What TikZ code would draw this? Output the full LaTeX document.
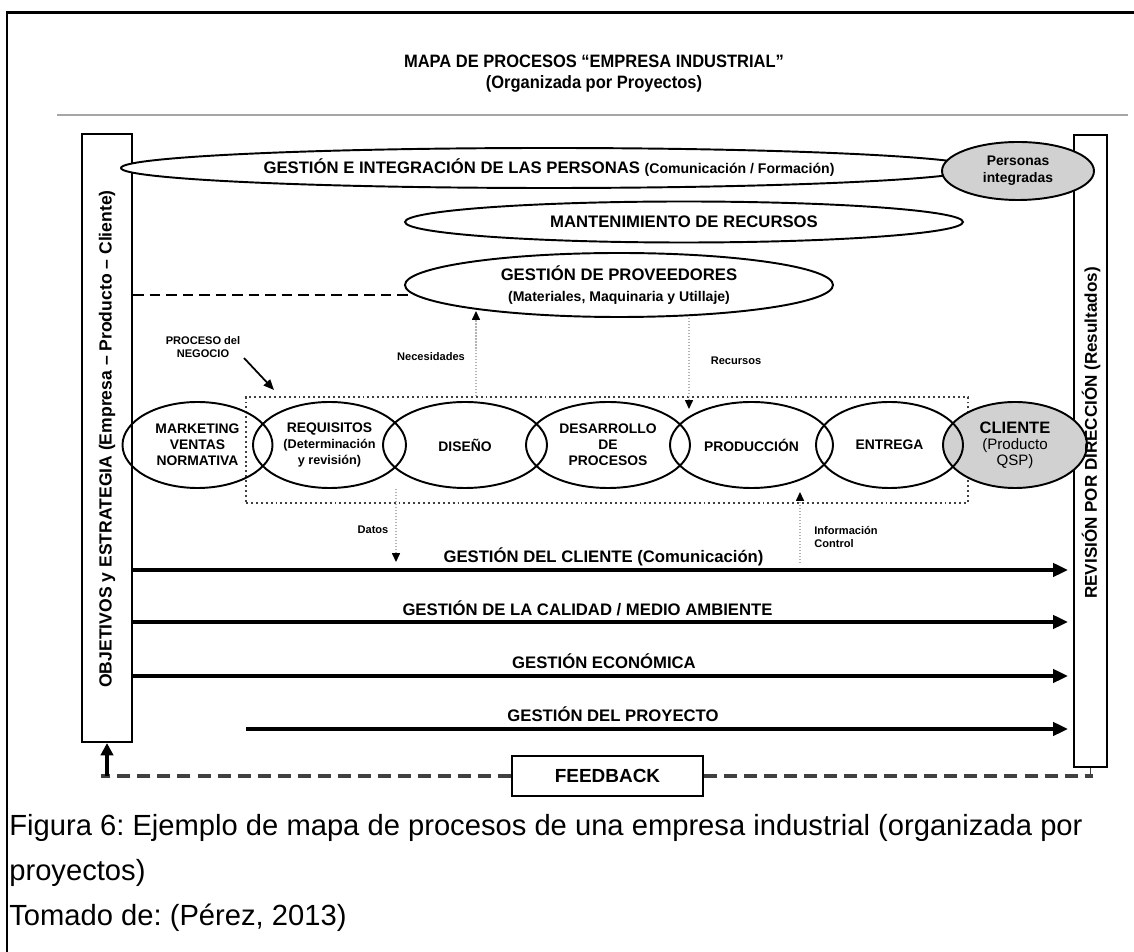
\documentclass[tikz,border=0pt]{standalone}
\usepackage{fontspec}
\setmainfont{Liberation Sans}
\newfontfamily\titlefont[FakeStretch=0.92]{Liberation Sans}
\usetikzlibrary{shapes.geometric,arrows.meta}
\newdimen\pxu \pxu=0.02cm
\newcommand\fsz[2]{\fontsize{#1}{#2}\selectfont}
\definecolor{ovalgray}{gray}{0.82}
\frenchspacing
\tikzset{
  oval/.style={ellipse, draw, line width=1.1pt, fill=white, inner sep=0pt, align=center},
  grayoval/.style={oval, fill=ovalgray},
  proc/.style={ellipse, draw, line width=1.1pt, inner sep=0pt, minimum height=86\pxu, align=center, font={\fsz{7.9}{9.1}\bfseries}},
  sidebox/.style={draw, line width=1.2pt, inner sep=0pt, fill=white},
  flow/.style={line width=2.2pt, -{Triangle[length=8.5pt,width=7.5pt]}},
  dotarr/.style={gray!60, line width=0.7pt, dash pattern=on 0.7pt off 1pt, -{Triangle[length=5pt,width=4.5pt,color=black,fill=black]}},
  flowlbl/.style={font={\fsz{9.5}{11}\bfseries}, inner sep=0pt, anchor=base},
  small/.style={font={\fsz{6.3}{7.4}\bfseries}, inner sep=0pt, align=center},
  fbdash/.style={black!75, line width=2pt, dash pattern=on 7.4pt off 4pt},
  provdash/.style={line width=1.5pt, dash pattern=on 6pt off 3.4pt},
  procbox/.style={draw, black!75, line width=0.8pt, dash pattern=on 1.1pt off 1.7pt, inner sep=0pt},
  caption/.style={font={\fsz{16.6}{20}}, inner sep=0pt, anchor=base west},
}
\begin{document}
\begin{tikzpicture}[x=0.02cm, y=-0.02cm]
\useasboundingbox (0,0) rectangle (1134,952);
\fill[white] (0,0) rectangle (1134,952);
% frame
\draw[line width=1.6pt, line join=miter] (7,952) -- (7,12.7) -- (1134,12.7);
% title
\node[font={\titlefont\fsz{10.2}{12}\bfseries}, anchor=base, inner sep=0pt] (t1) at (594,68) {MAPA DE PROCESOS “EMPRESA INDUSTRIAL”};
\node[font={\titlefont\fsz{10.2}{12}\bfseries}, anchor=base, inner sep=0pt] (t2) at (594,89) {(Organizada por Proyectos)};
\draw[line width=1.7pt, gray!70] (57,115) -- (1128,115);
% side boxes
\node[sidebox, minimum width=50\pxu, minimum height=608\pxu] (obj) at (107,438) {};
\node[sidebox, minimum width=33\pxu, minimum height=632\pxu] (rev) at (1090.5,451) {};
% upper ellipses
\node[oval, minimum width=856\pxu, minimum height=40\pxu] (gip) at (549,168)
  {\fsz{9.5}{11}\bfseries GESTIÓN E INTEGRACIÓN DE LAS PERSONAS \fsz{8}{10}(Comunicación / Formación)};
\node[grayoval, minimum width=152\pxu, minimum height=58\pxu, font={\fsz{7.9}{9.6}\bfseries}] (pers) at (1018,171) {Personas\\integradas};
\node[oval, minimum width=558\pxu, minimum height=41\pxu] (mant) at (684,222) {\fsz{9.5}{11}\bfseries MANTENIMIENTO DE RECURSOS};
\node[oval, minimum width=428\pxu, minimum height=64\pxu] (prov) at (619,285)
  {\fsz{9.5}{10.8}\bfseries GESTIÓN DE PROVEEDORES\\\fsz{8}{10.8}\bfseries (Materiales, Maquinaria y Utillaje)};
\coordinate (pd) at (411,295);
\draw[provdash] (obj.east |- pd) -- (pd);
% process band
\node[procbox, minimum width=722\pxu, minimum height=106\pxu] (proc) at (607,450) {};
\node[proc, fill=ovalgray, minimum width=144\pxu] (cli) at (1015,445)
  {{\fsz{9.4}{10}\bfseries CLIENTE}\\{\fsz{8.6}{9.2}\mdseries (Producto}\\{\fsz{8.6}{9.2}\mdseries QSP)}};
\node[proc, minimum width=150\pxu] (mkt) at (197.5,445) {MARKETING\\VENTAS\\NORMATIVA};
\node[proc, minimum width=153\pxu] (req) at (329.5,445)
  {REQUISITOS\\{\fsz{7.2}{9.1}\bfseries (Determinación}\\{\fsz{7.2}{9.1}\bfseries y revisión)}};
\node[proc, minimum width=164\pxu] (dis) at (465,445) {DISEÑO};
\node[proc, minimum width=164\pxu] (des) at (608,445) {DESARROLLO\\DE\\PROCESOS};
\node[proc, minimum width=163\pxu] (prod) at (751.5,445) {PRODUCCIÓN};
\node[proc, minimum width=147\pxu] (ent) at (889.5,445) {ENTREGA};
% side texts
\node[rotate=90, font={\fsz{10}{12}\bfseries}, inner sep=0pt] (objt) at (107,439) {OBJETIVOS y ESTRATEGIA (Empresa – Producto – Cliente)};
\node[rotate=90, font={\fsz{9.7}{12}\bfseries}, inner sep=0pt] (revt) at (1091,433) {REVISIÓN POR DIRECCIÓN (Resultados)};
% small labels and dotted arrows
\node[small] (pn) at (203,347) {PROCESO del\\NEGOCIO};
\coordinate (pa) at (244,358);
\coordinate (pb) at (274,390);
\draw[line width=1pt, -{Triangle[length=6pt,width=5pt]}] (pa) -- (pb);
\node[small] (nec) at (431,357) {Necesidades};
\coordinate (nt) at (476,311);
\draw[dotarr] (proc.north -| nt) -- (nt);
\node[small] (rec) at (736,361) {Recursos};
\coordinate (rb) at (689,409);
\draw[dotarr] (prov.south -| rb) -- (rb);
\node[small] (dat) at (373,530) {Datos};
\coordinate (dt) at (396,562);
\draw[dotarr] (req.south -| dt) -- (dt);
\node[small, align=left, anchor=west] (inf) at (814,537) {Información\\Control};
\coordinate (ib) at (800,563);
\coordinate (it) at (800,492);
\draw[dotarr] (ib) -- (it);
% flows
\coordinate (e1) at (1068,570);
\coordinate (e2) at (1068,622);
\coordinate (e3) at (1068,676);
\coordinate (e4) at (1068,729);
\coordinate (s4) at (246,729);
\draw[flow] (obj.east |- e1) -- (e1);
\draw[flow] (obj.east |- e2) -- (e2);
\draw[flow] (obj.east |- e3) -- (e3);
\draw[flow] (s4) -- (e4);
\node[flowlbl] (l1) at (603.5,563) {GESTIÓN DEL CLIENTE (Comunicación)};
\node[flowlbl] (l2) at (587.5,616) {GESTIÓN DE LA CALIDAD / MEDIO AMBIENTE};
\node[flowlbl] (l3) at (604,669) {GESTIÓN ECONÓMICA};
\node[flowlbl] (l4) at (613,722) {GESTIÓN DEL PROYECTO};
% feedback
\node[draw, line width=1.2pt, minimum width=191\pxu, minimum height=40\pxu, inner sep=0pt, font={\fsz{10.8}{12}\bfseries}] (fb) at (607.5,776) {FEEDBACK};
\coordinate (fbl) at (101,776);
\coordinate (fbr) at (1093,776);
\draw[fbdash] (fb.west) -- (fbl);
\draw[fbdash] (fb.east) -- (fbr);
\draw[line width=1pt, black!75] (rev.south) -- (rev.south |- fb.east);
\draw[line width=2pt, -{Triangle[length=7pt,width=7pt]}] (obj.south |- fb.west) -- (obj.south);
% caption
\node[caption] (c1) at (9,836) {Figura 6: Ejemplo de mapa de procesos de una empresa industrial (organizada por};
\node[caption] (c2) at (9,881) {proyectos)};
\node[caption] (c3) at (9,926) {Tomado de: (Pérez, 2013)};
\end{tikzpicture}
\end{document}
